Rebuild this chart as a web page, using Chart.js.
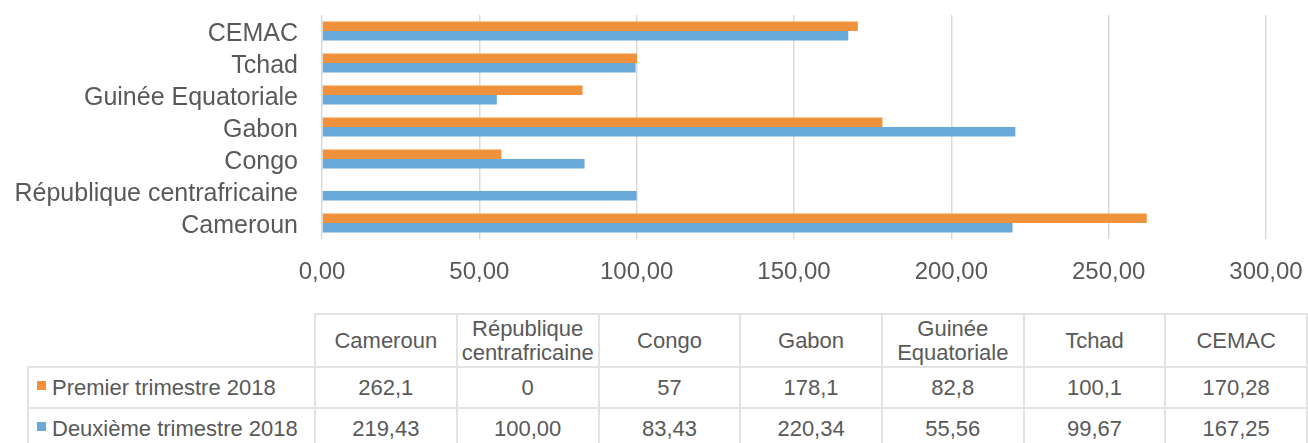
<!DOCTYPE html>
<html>
<head>
<meta charset="utf-8">
<script src="https://cdn.jsdelivr.net/npm/chart.js@4.4.1/dist/chart.umd.min.js"></script>
<style>
  body { margin: 0; background: #fff; font-family: "Liberation Sans", Arial, sans-serif; }
  #wrap { position: relative; width: 1308px; height: 443px; overflow: hidden; }
  #canvas { position: absolute; left: 0; top: 0; }
  #tbl { position: absolute; left: 27px; top: 313px; border-collapse: collapse; color: #595959; font-size: 22px; }
  #tbl td { border: 2px solid #e3e3e3; text-align: center; padding: 0; width: 140px; height: 39px; }
  #tbl tr.head td { height: 51px; line-height: 24px; }
  #tbl td.blank { border: none; width: 285px; }
  #tbl td.leg { text-align: left; white-space: nowrap; width: 285px; }
  .mk { display: inline-block; width: 9px; height: 9px; margin: 0 6px 0 8px; vertical-align: 5px; }
</style>
</head>
<body>
<div id="wrap">
  <canvas id="canvas" width="1308" height="300"></canvas>
  <table id="tbl"></table>
</div>
<script>
	// categories in table order (Cameroun is drawn at the bottom)
	var pays = ['Cameroun', 'République centrafricaine', 'Congo', 'Gabon', 'Guinée Equatoriale', 'Tchad', 'CEMAC'];
	var enteteTableau = [['Cameroun'], ['République', 'centrafricaine'], ['Congo'], ['Gabon'], ['Guinée', 'Equatoriale'], ['Tchad'], ['CEMAC']];
	var premierTrimestre = [262.1, 0, 57, 178.1, 82.8, 100.1, 170.28];
	var deuxiemeTrimestre = [219.43, 100.00, 83.43, 220.34, 55.56, 99.67, 167.25];
	var seriesNoms = ['Premier trimestre 2018', 'Deuxième trimestre 2018'];
	var seriesDecimales = [null, 2];
	var ticksX = [0, 50, 100, 150, 200, 250, 300];

	var orange = '#F0913B';
	var bleu = '#68A9DA';
	var gris = '#595959';

	function fmt(v, dec) {
		var s = dec === null ? String(v) : v.toFixed(dec);
		return s.replace('.', ',');
	}

	var barChartData = {
		labels: pays,
		datasets: [{
			label: seriesNoms[0],
			backgroundColor: orange,
			borderWidth: 0,
			data: premierTrimestre
		}, {
			label: seriesNoms[1],
			backgroundColor: bleu,
			borderWidth: 0,
			data: deuxiemeTrimestre
		}]
	};

	window.onload = function() {
		var ctx = document.getElementById('canvas').getContext('2d');
		window.myBar = new Chart(ctx, {
			type: 'bar',
			data: barChartData,
			options: {
				indexAxis: 'y',
				responsive: false,
				animation: false,
				layout: { padding: { top: 15, right: 42, left: 0, bottom: 0 } },
				datasets: { bar: { categoryPercentage: 0.6, barPercentage: 1.0 } },
				plugins: { legend: { display: false }, tooltip: { enabled: false } },
				scales: {
					x: {
						min: ticksX[0],
						max: ticksX[ticksX.length - 1],
						afterBuildTicks: function(s) { s.ticks = ticksX.map(function(v) { return { value: v }; }); },
						afterFit: function(s) { s.height = 61; s.paddingLeft = 0; s.paddingRight = 0; },
						border: { display: false },
						grid: { color: '#d9d9d9', lineWidth: 1.5, drawTicks: false },
						ticks: {
							padding: 19,
							maxRotation: 0,
							color: gris,
							font: { family: "'Liberation Sans', Arial", size: 24 },
							callback: function(v) { return fmt(v, 2); }
						}
					},
					y: {
						reverse: true,
						afterFit: function(s) { s.width = 322; s.paddingTop = 0; s.paddingBottom = 0; },
						border: { display: false },
						grid: { display: false, drawTicks: false },
						ticks: {
							autoSkip: false,
							padding: 24,
							labelOffset: 3,
							color: gris,
							font: { family: "'Liberation Sans', Arial", size: 25 }
						}
					}
				}
			}
		});

		// data table under the chart
		var tbl = document.getElementById('tbl');
		var html = '<tr class="head"><td class="blank"></td>';
		enteteTableau.forEach(function(lignes) {
			html += '<td>' + lignes.join('<br>') + '</td>';
		});
		html += '</tr>';
		[premierTrimestre, deuxiemeTrimestre].forEach(function(serie, i) {
			html += '<tr><td class="leg"><span class="mk" style="background:' + (i === 0 ? orange : bleu) + '"></span>' + seriesNoms[i] + '</td>';
			serie.forEach(function(v) {
				html += '<td>' + fmt(v, seriesDecimales[i]) + '</td>';
			});
			html += '</tr>';
		});
		tbl.innerHTML = html;
	};
</script>
</body>
</html>
